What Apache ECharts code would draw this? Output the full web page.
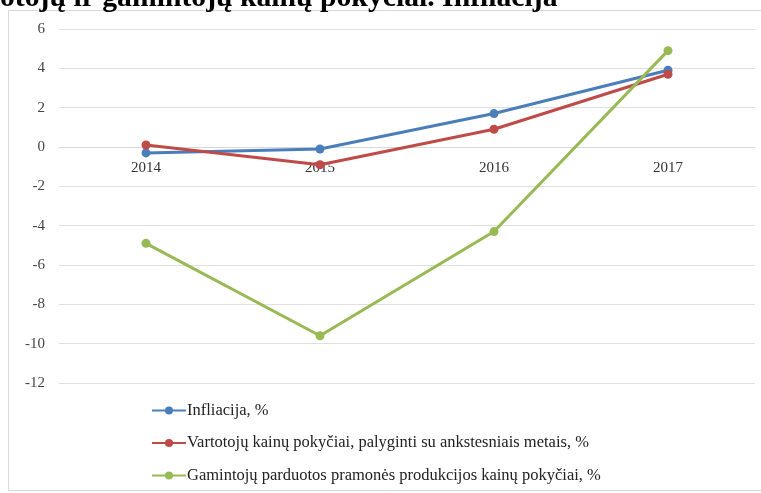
<!DOCTYPE html>
<html><head><meta charset="utf-8">
<script src="https://cdn.jsdelivr.net/npm/echarts@6/dist/echarts.min.js"></script>
<style>html,body{margin:0;padding:0;background:#fff}#c{width:761px;height:493px}</style>
</head><body><div id="c"></div>
<script>
const categories = ['2014', '2015', '2016', '2017'];
const infliacija = [-0.3, -0.1, 1.7, 3.9];
const vartotoju = [0.1, -0.9, 0.9, 3.7];
const gamintoju = [-4.9, -9.6, -4.3, 4.9];
const seriesNames = ['Infliacija, %', 'Vartotojų kainų pokyčiai, palyginti su ankstesniais metais, %', 'Gamintojų parduotos pramonės produkcijos kainų pokyčiai, %'];
const titleText = 'otojų ir gamintojų kainų pokyčiai. Infliacija';

const font = '"Liberation Serif", "Times New Roman", serif';
const chart = echarts.init(document.getElementById('c'));
const mk = (name, data, color) => ({
  name, type: 'line', data, symbol: 'circle', symbolSize: 9,
  lineStyle: { width: 3, color }, itemStyle: { color }, z: 3
});
chart.setOption({
  animation: false,
  textStyle: { fontFamily: font },
  graphic: [
    { type: 'rect', shape: { x: 8.5, y: 10.5, width: 760, height: 480 }, style: { fill: 'none', stroke: '#d9d9d9', lineWidth: 1 }, z: 0 },
    { type: 'text', x: 0, y: 13, style: { text: titleText, font: 'bold 29.7px "Liberation Serif", serif', fill: '#000', verticalAlign: 'bottom', align: 'left' }, z: 10 }
  ],
  grid: { left: 59, right: 6, top: 29, bottom: 110 },
  xAxis: {
    type: 'category', data: categories, boundaryGap: true,
    offset: -236,
    axisLine: { onZero: false, lineStyle: { color: '#d9d9d9', width: 1 } },
    axisTick: { show: false },
    axisLabel: { margin: 14, fontSize: 15, color: '#333', fontFamily: font }
  },
  yAxis: {
    type: 'value', min: -12, max: 6, interval: 2,
    axisLine: { show: false }, axisTick: { show: false },
    splitLine: { lineStyle: { color: '#e0e0e0', width: 1 } },
    axisLabel: { margin: 14, fontSize: 15, color: '#444', fontFamily: font }
  },
  legend: {
    orient: 'vertical', left: 151, top: 402, itemGap: 15.5, padding: 0,
    itemWidth: 34, itemHeight: 10, height: 90,
    textStyle: { fontSize: 16.5, color: '#222', fontFamily: font, padding: [0, 0, 0, -4] },
    data: seriesNames
  },
  series: [
    mk(seriesNames[0], infliacija, '#4a7ebb'),
    mk(seriesNames[1], vartotoju, '#be4b48'),
    mk(seriesNames[2], gamintoju, '#98b954')
  ]
});
</script></body></html>
